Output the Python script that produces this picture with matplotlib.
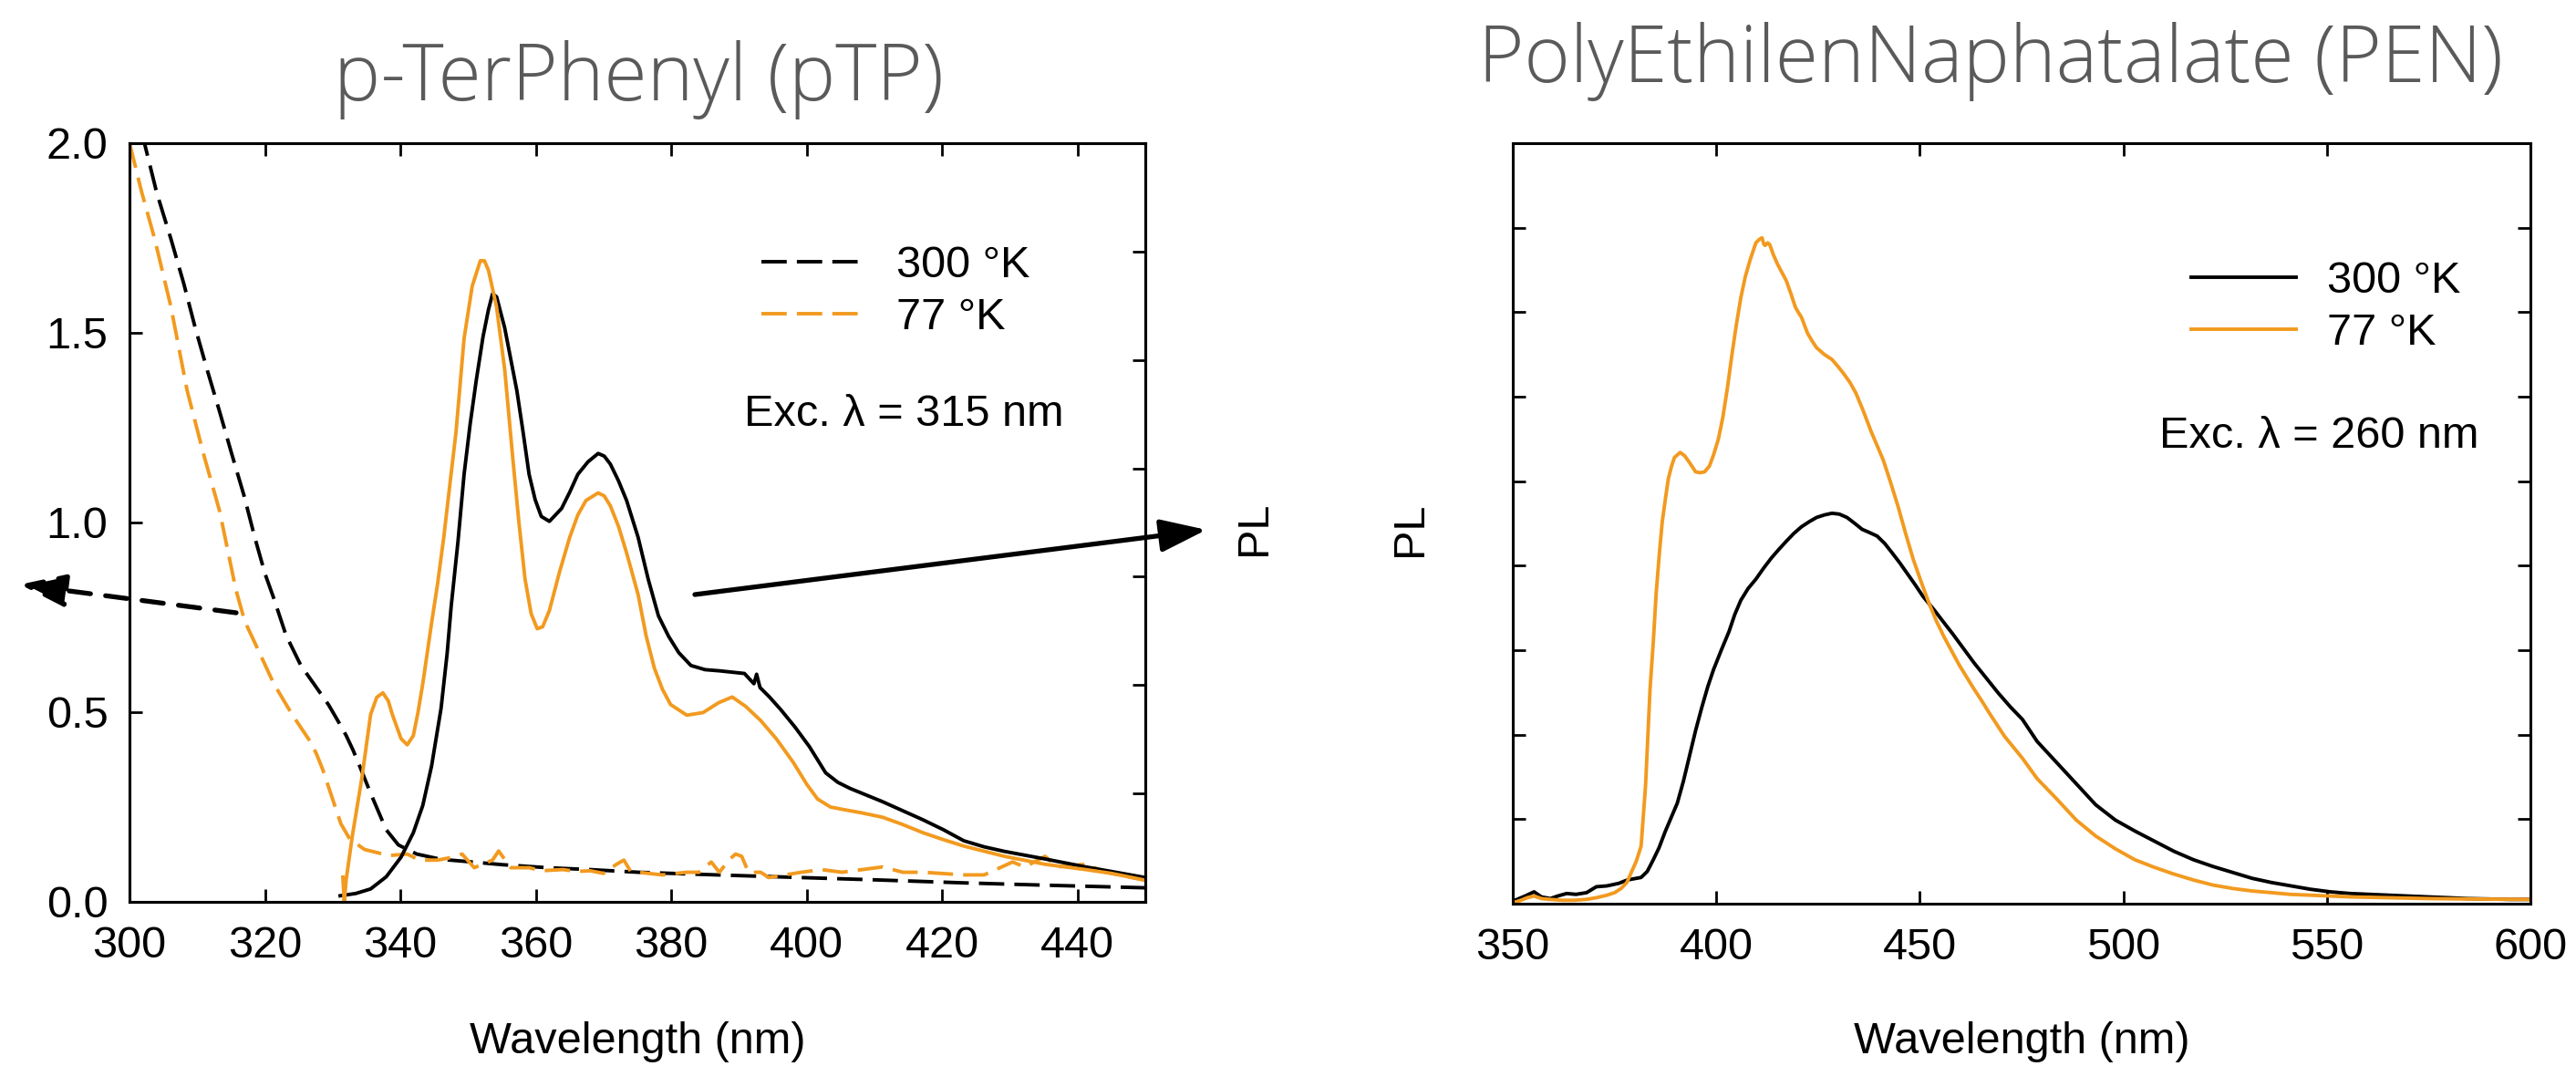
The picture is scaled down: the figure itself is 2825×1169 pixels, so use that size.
import numpy as np
import matplotlib.pyplot as plt
from matplotlib.patches import FancyArrowPatch

plt.rcParams["font.family"] = ["Liberation Sans", "DejaVu Sans"]
plt.rcParams["lines.scale_dashes"] = False

ORANGE = "#F29A1F"
TITLE_GREY = "#5a5a5a"

# ---- p-TerPhenyl (pTP): absorbance (dashed) and PL (solid)
ptp_abs_300_wl = [300, 302.2, 304.0, 306.1, 308.0, 309.7, 311.5, 313.3, 315.1, 316.9, 318.5, 320.0,
                  321.3, 323.1, 325.3, 327.4, 329.4, 331.0, 332.0, 333.0, 333.8, 335.6, 337.9, 339.7,
                  342.4, 346.0, 350.0, 355.0, 361.7, 368.0, 375.1, 385.0, 399.2, 410.0, 423.2, 435.0, 450.0]
ptp_abs_300 = [2.12, 2.0, 1.87, 1.748, 1.63, 1.513, 1.40, 1.292, 1.18, 1.071, 0.96, 0.865,
               0.80, 0.703, 0.623, 0.57, 0.519, 0.47, 0.438, 0.40, 0.366, 0.286, 0.19, 0.15,
               0.126, 0.112, 0.106, 0.098, 0.09, 0.085, 0.078, 0.072, 0.064, 0.058, 0.050, 0.044, 0.037]

ptp_abs_77_wl = [300, 301.8, 303.7, 306.1, 308.5, 310.9, 313.3, 315.7, 317.0, 318.6, 321.3, 324.0,
                 326.7, 327.6, 328.5, 329.4, 331.2, 332.5, 334.7, 338.3, 341.0, 342.8, 345.5, 347.8,
                 349.1, 350.9, 353.6, 354.5, 356.3, 359.0, 360.8, 364.0, 366.0, 368.0, 370.0, 372.0,
                 373.0, 374.0, 375.1, 378.7, 382.3, 384.1, 385.9, 387.1, 388.6, 389.5, 390.4, 391.4,
                 393.2, 394.4, 399.2, 402.2, 405.2, 411.2, 414.2, 417.2, 423.2, 426.2, 430.4, 432.2,
                 435.2, 437.0, 441.2, 444.2, 450.0]
ptp_abs_77 = [2.0, 1.87, 1.748, 1.569, 1.348, 1.182, 1.03, 0.823, 0.74, 0.679, 0.575, 0.494,
              0.422, 0.39, 0.35, 0.302, 0.206, 0.166, 0.138, 0.122, 0.126, 0.11, 0.11, 0.118,
              0.126, 0.09, 0.11, 0.134, 0.09, 0.09, 0.082, 0.085, 0.08, 0.082, 0.075, 0.10,
              0.11, 0.08, 0.078, 0.071, 0.078, 0.078, 0.105, 0.078, 0.112, 0.126, 0.12, 0.078,
              0.078, 0.064, 0.078, 0.085, 0.078, 0.092, 0.078, 0.078, 0.071, 0.071, 0.105, 0.092,
              0.12, 0.092, 0.099, 0.078, 0.057]

ptp_pl_300_wl = [331.1, 333.4, 335.6, 337.9, 340.1, 341.9, 343.3, 344.6, 346.0, 346.9, 347.5, 348.5,
                 349.4, 350.3, 351.2, 352.2, 353.0, 353.6, 354.2, 355.4, 356.3, 357.2, 358.1, 359.0,
                 359.9, 360.8, 362.0, 363.8, 365.0, 366.2, 367.7, 369.2, 370.1, 371.0, 372.2, 373.4,
                 375.1, 376.6, 378.1, 379.6, 381.1, 382.9, 385.0, 387.1, 390.8, 392.2, 392.6, 393.1,
                 394.5, 396.2, 398.3, 400.4, 402.8, 404.6, 406.4, 411.2, 417.2, 420.2, 423.2, 426.2,
                 429.2, 435.2, 441.2, 445.0, 450.0]
ptp_pl_300 = [0.016, 0.022, 0.034, 0.066, 0.118, 0.182, 0.254, 0.358, 0.51, 0.655, 0.78, 0.95,
              1.127, 1.26, 1.375, 1.49, 1.561, 1.603, 1.595, 1.513, 1.43, 1.347, 1.24, 1.127,
              1.06, 1.016, 1.003, 1.037, 1.08, 1.127, 1.16, 1.182, 1.175, 1.154, 1.11, 1.058,
              0.961, 0.85, 0.754, 0.70, 0.657, 0.623, 0.612, 0.609, 0.602, 0.575, 0.60, 0.565,
              0.54, 0.506, 0.46, 0.409, 0.34, 0.315, 0.299, 0.264, 0.216, 0.19, 0.161, 0.145,
              0.133, 0.113, 0.092, 0.08, 0.064]

ptp_pl_77_wl = [331.5, 331.7, 332.0, 332.9, 334.3, 335.6, 336.5, 337.4, 338.2, 338.8, 340.1, 341.0,
                341.9, 342.6, 343.3, 344.6, 345.5, 346.4, 347.3, 348.2, 349.4, 350.6, 351.8, 352.4,
                353.0, 354.2, 355.4, 356.6, 357.5, 358.4, 359.3, 360.2, 361.0, 362.0, 363.5, 365.0,
                366.2, 367.4, 369.2, 370.1, 371.0, 372.2, 373.4, 375.1, 376.3, 377.5, 378.7, 379.9,
                382.3, 384.7, 387.0, 389.0, 391.0, 393.2, 395.5, 398.0, 400.0, 401.6, 403.5, 405.2,
                408.0, 411.2, 414.0, 417.2, 420.0, 423.2, 429.2, 435.2, 441.2, 445.0, 450.0]
ptp_pl_77 = [0.065, 0.0, 0.06, 0.174, 0.326, 0.494, 0.539, 0.551, 0.53, 0.494, 0.43, 0.414,
             0.438, 0.50, 0.575, 0.735, 0.84, 0.961, 1.10, 1.237, 1.485, 1.623, 1.69, 1.69,
             1.665, 1.568, 1.403, 1.168, 1.0, 0.851, 0.76, 0.72, 0.725, 0.768, 0.87, 0.961,
             1.02, 1.058, 1.078, 1.07, 1.044, 0.99, 0.92, 0.81, 0.70, 0.616, 0.56, 0.52,
             0.492, 0.499, 0.525, 0.54, 0.515, 0.478, 0.43, 0.368, 0.31, 0.271, 0.25, 0.244,
             0.235, 0.223, 0.205, 0.182, 0.165, 0.147, 0.12, 0.099, 0.085, 0.075, 0.057]

# ---- PolyEthilenNaphatalate (PEN): PL, arbitrary units
pen_300_wl = [350, 351.5, 353, 355.2, 357, 359.2, 361, 363.2, 365.5, 368.1, 370.5, 373.1, 376, 378.1,
              381.5, 383.0, 384.4, 385.9, 387.4, 388.9, 390.4, 391.9, 393.4, 394.9, 396.4, 397.9,
              399.3, 401.2, 403.1, 404.5, 406.0, 407.8, 409.7, 411.6, 413.5, 415.3, 417.2, 419.0,
              420.9, 422.8, 424.6, 426.5, 428.4, 430.2, 432.1, 434.0, 435.8, 437.7, 439.5, 441.4,
              443.2, 445.1, 447.0, 448.9, 450.7, 453.6, 456.0, 458.1, 460.7, 463.3, 466.3, 469.3,
              472.2, 475.2, 478.8, 483.6, 488.4, 493.2, 498, 502.8, 507.6, 512.4, 517.2, 522,
              526.8, 531.6, 536.4, 541.2, 546, 550.8, 555.7, 560.5, 565.3, 570, 574.9, 580,
              584.5, 590, 595, 600]
pen_300 = [0.03, 0.06, 0.09, 0.14, 0.08, 0.06, 0.09, 0.12, 0.11, 0.13, 0.2, 0.21, 0.24, 0.28,
           0.31, 0.38, 0.51, 0.66, 0.85, 1.02, 1.19, 1.45, 1.75, 2.05, 2.32, 2.57,
           2.77, 3.0, 3.22, 3.42, 3.59, 3.73, 3.84, 3.97, 4.09, 4.19, 4.29, 4.38,
           4.46, 4.52, 4.57, 4.60, 4.62, 4.61, 4.57, 4.50, 4.43, 4.39, 4.35, 4.26,
           4.15, 4.03, 3.90, 3.77, 3.64, 3.47, 3.32, 3.19, 3.02, 2.85, 2.67, 2.49,
           2.33, 2.18, 1.92, 1.67, 1.42, 1.17, 0.99, 0.86, 0.74, 0.62, 0.52, 0.44,
           0.37, 0.30, 0.25, 0.21, 0.17, 0.14, 0.12, 0.11, 0.10, 0.09, 0.08, 0.07,
           0.06, 0.055, 0.05, 0.05]

pen_77_wl = [350, 352, 353.5, 355.2, 357, 359.2, 362, 365.1, 368, 370.5, 373.1, 375, 376.6, 378,
             379.1, 380.3, 381.5, 382.6, 383.7, 384.5, 385.2, 386.0, 386.7, 387.5, 388.2, 389.0,
             389.7, 391.1, 392.2, 393.4, 394.9, 396.0, 397.1, 398.3, 399.3, 400.5, 401.6, 402.7,
             403.8, 404.9, 406.0, 407.1, 408.3, 409.7, 410.5, 411.2, 411.7, 412.0, 412.6, 413.1,
             414.0, 415.0, 416.1, 417.2, 418.3, 419.4, 420.1, 420.9, 422.4, 423.5, 424.6, 426.5,
             428.4, 430.0, 431.3, 432.8, 434.3, 436.1, 438.0, 439.5, 441.0, 442.9, 444.7, 446.5,
             448.4, 450.3, 452.2, 454.0, 455.9, 457.8, 459.6, 461.5, 463.3, 465.2, 467.0, 468.9,
             470.8, 473, 475.2, 478.8, 483.6, 488.4, 493.2, 498, 502.8, 507.6, 512.4, 517.2,
             522, 526.8, 531.6, 536.4, 541, 546, 555.7, 565, 575, 585, 600]
pen_77 = [0.01, 0.04, 0.07, 0.09, 0.06, 0.05, 0.04, 0.04, 0.05, 0.07, 0.10, 0.13, 0.18, 0.25,
          0.37, 0.5, 0.68, 1.4, 2.54, 3.1, 3.67, 4.15, 4.52, 4.8, 5.03, 5.18,
          5.28, 5.34, 5.30, 5.22, 5.11, 5.10, 5.11, 5.18, 5.31, 5.5, 5.76, 6.1,
          6.49, 6.85, 7.17, 7.42, 7.62, 7.82, 7.86, 7.88, 7.80, 7.79, 7.82, 7.80,
          7.68, 7.57, 7.47, 7.37, 7.22, 7.06, 7.0, 6.94, 6.75, 6.66, 6.58, 6.50,
          6.44, 6.35, 6.27, 6.17, 6.04, 5.83, 5.59, 5.42, 5.25, 4.97, 4.69, 4.38,
          4.07, 3.81, 3.56, 3.35, 3.16, 2.99, 2.83, 2.68, 2.54, 2.40, 2.26, 2.12,
          1.98, 1.85, 1.72, 1.48, 1.24, 0.99, 0.80, 0.65, 0.52, 0.43, 0.35, 0.28,
          0.22, 0.18, 0.15, 0.13, 0.11, 0.10, 0.08, 0.07, 0.06, 0.055, 0.05]

labels = ["300 °K", "77 °K"]
FS = 35
LW = 2.8
DASH = (0, (20, 8))


def style_axes(ax):
    for s in ax.spines.values():
        s.set_linewidth(2.2)
    ax.tick_params(direction="in", length=10, width=2, top=True, labelsize=FS, pad=19)


fig = plt.figure(figsize=(28.25, 11.69), dpi=100)

# ---------- left panel: pTP
ax1 = fig.add_axes([0.0503, 0.154, 0.3943, 0.7117])
ax1.plot(ptp_abs_300_wl, ptp_abs_300, color="black", lw=LW, ls=DASH, label=labels[0])
ax1.plot(ptp_abs_77_wl, ptp_abs_77, color=ORANGE, lw=LW, ls=DASH, label=labels[1])
ax1.plot(ptp_pl_300_wl, ptp_pl_300, color="black", lw=LW)
ax1.plot(ptp_pl_77_wl, ptp_pl_77, color=ORANGE, lw=LW)
ax1.set_xlim(300, 450)
ax1.set_ylim(0, 2.0)
ax1.set_xticks(np.arange(300, 441, 20))
ax1.set_yticks([0, 0.5, 1.0, 1.5, 2.0])
ax1.set_yticklabels(["0.0", "0.5", "1.0", "1.5", "2.0"])
style_axes(ax1)
ax1.tick_params(axis="y", pad=17)
ax1.set_xlabel("Wavelength (nm)", fontsize=FS, va="center")
ax1.xaxis.set_label_coords(0.5, -0.185)
ax1.legend(loc="upper left", bbox_to_anchor=(0.622, 0.865), frameon=False, fontsize=FS,
           handlelength=2.35, handletextpad=0.7, labelspacing=0.25, borderpad=0, borderaxespad=0)
ax1.text(0.762, 0.643, "Exc. λ = 315 nm", transform=ax1.transAxes, fontsize=FS,
         ha="center", va="center")
ax1.text(1.107, 0.492, "PL", transform=ax1.transAxes, fontsize=FS, rotation=90,
         ha="center", va="center")

# right-hand PL scale of the left panel (ticks only)
ax1r = ax1.twinx()
ax1r.set_ylim(0, 7)
ax1r.set_yticks(range(8))
ax1r.tick_params(direction="in", length=10, width=2, labelright=False)
for s in ax1r.spines.values():
    s.set_linewidth(2.2)

# ---------- right panel: PEN
ax2 = fig.add_axes([0.5873, 0.1523, 0.3950, 0.7134])
ax2.plot(pen_300_wl, pen_300, color="black", lw=LW, label=labels[0])
ax2.plot(pen_77_wl, pen_77, color=ORANGE, lw=LW, label=labels[1])
ax2.set_xlim(350, 600)
ax2.set_ylim(0, 9)
ax2.set_xticks(np.arange(350, 601, 50))
ax2.set_yticks(range(10))
style_axes(ax2)
ax2.tick_params(axis="y", right=True, labelleft=False)
ax2.set_xlabel("Wavelength (nm)", fontsize=FS, va="center")
ax2.xaxis.set_label_coords(0.5, -0.182)
ax2.legend(loc="upper left", bbox_to_anchor=(0.667, 0.845), frameon=False, fontsize=FS,
           handlelength=2.35, handletextpad=0.7, labelspacing=0.25, borderpad=0, borderaxespad=0)
ax2.text(0.792, 0.614, "Exc. λ = 260 nm", transform=ax2.transAxes, fontsize=FS,
         ha="center", va="center")
ax2.text(-0.101, 0.492, "PL", transform=ax2.transAxes, fontsize=FS, rotation=90,
         ha="center", va="center")

# ---------- arrows pointing to the two scales of the left panel
W, H = 2825, 1169
fig.add_artist(FancyArrowPatch(
    (762 / W, 1 - 652 / H), (1323 / W, 1 - 581 / H), transform=fig.transFigure,
    arrowstyle="-|>,head_length=1.4,head_width=0.5", mutation_scale=22,
    shrinkA=0, shrinkB=0, lw=3.8, color="black"))
fig.add_artist(FancyArrowPatch(
    (259 / W, 1 - 672 / H), (22 / W, 1 - 641 / H), transform=fig.transFigure,
    arrowstyle="-|>,head_length=1.4,head_width=0.5", mutation_scale=22,
    shrinkA=0, shrinkB=0, lw=3.8, color="black", linestyle=(0, (17, 12))))

# ---------- panel titles
title_font = dict(family=["Open Sans", "DejaVu Sans"], weight="light", color=TITLE_GREY, fontsize=62)
fig.text(700 / W, 1 - 110 / H, "p-TerPhenyl (pTP)", ha="center", va="baseline", **title_font)
fig.text(2183 / W, 1 - 90 / H, "PolyEthilenNaphatalate (PEN)", ha="center", va="baseline", **title_font)

fig.savefig("out.png", dpi=100)
